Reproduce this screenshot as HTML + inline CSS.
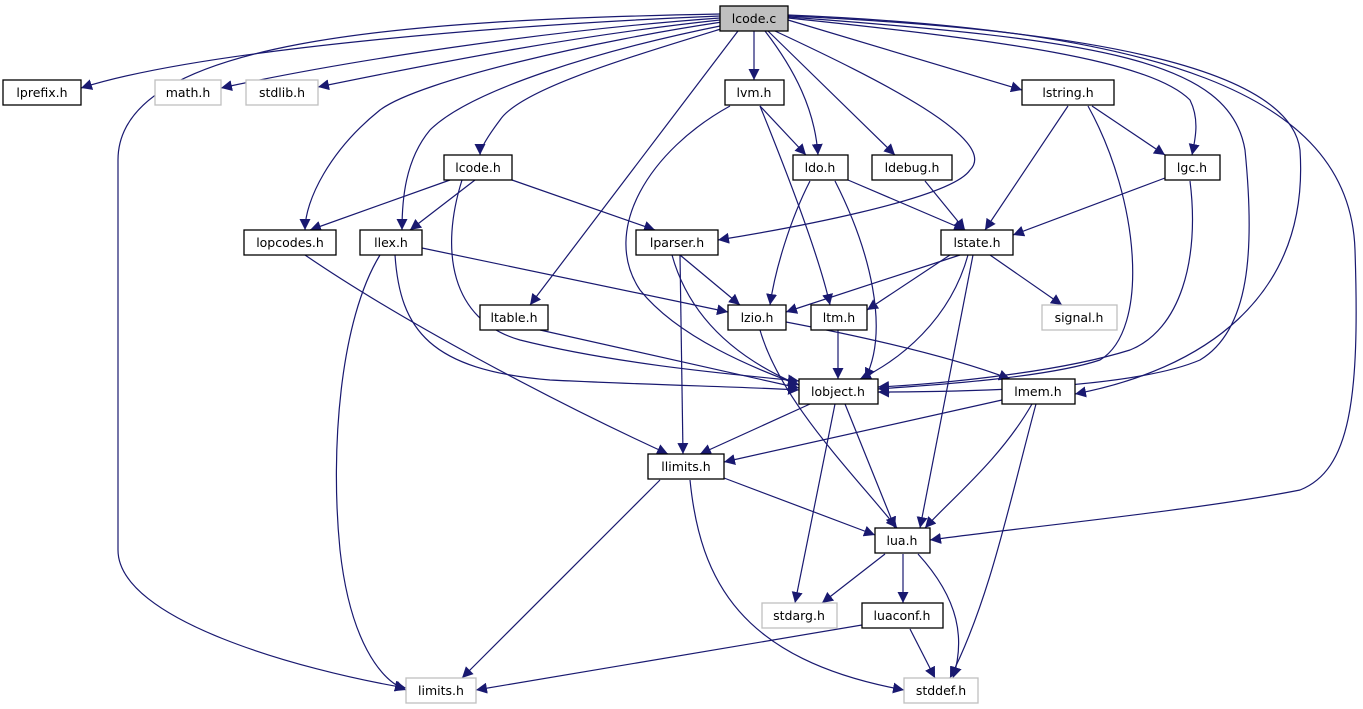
<!DOCTYPE html>
<html><head><meta charset="utf-8"><style>
html,body{margin:0;padding:0;background:#fff;}
svg{display:block;}
text{font-family:"DejaVu Sans","Liberation Sans",sans-serif;font-size:12.5px;fill:#000;}
</style></head><body>
<svg width="1363" height="709" viewBox="0 0 1363 709" xmlns="http://www.w3.org/2000/svg">
<defs><marker id="a" viewBox="0 0 10 10" refX="10" refY="5" markerWidth="11" markerHeight="11" markerUnits="userSpaceOnUse" orient="auto"><path d="M0,0 L10,5 L0,10 z" fill="#191970"/></marker></defs>
<g fill="none" stroke="#191970" stroke-width="1.2" marker-end="url(#a)">
<path d="M720,16 C500,25 200,50 81,88"/>
<path d="M720,18 C550,30 350,60 221,88"/>
<path d="M720,20 C580,35 450,60 318,87"/>
<path d="M720,14 C400,20 118,40 118,160 L118,550 C118,620 300,670 406,688"/>
<path d="M722,22 C600,40 420,80 380,110 C330,150 305,200 305,230"/>
<path d="M725,25 C600,50 470,90 430,130 C405,160 402,200 402,230"/>
<path d="M724,28 C620,60 520,90 500,120 C485,140 480,150 480,155"/>
<path d="M738,31 L530,305"/>
<path d="M754,31 L754,80"/>
<path d="M765,31 C795,70 815,110 818,155"/>
<path d="M768,31 L895,155"/>
<path d="M775,31 C880,80 1000,140 970,170 C950,200 780,230 718,240"/>
<path d="M788,20 L1022,90"/>
<path d="M788,18 C1000,40 1150,60 1190,100 C1200,120 1195,140 1192,155"/>
<path d="M788,17 C1100,40 1230,60 1245,150 C1255,250 1250,330 1200,360 C1130,390 950,392 878,392"/>
<path d="M788,16 C1100,30 1290,70 1300,150 C1310,300 1200,370 1075,394"/>
<path d="M788,15 C1150,30 1350,90 1355,250 C1360,400 1350,470 1300,490 C1200,510 1000,530 930,540"/>
<path d="M760,106 L806,155"/>
<path d="M760,106 C790,180 820,260 830,305"/>
<path d="M730,106 C650,150 600,230 640,290 C680,340 760,370 799,385"/>
<path d="M1092,106 L1165,155"/>
<path d="M1068,106 L985,230"/>
<path d="M1088,106 C1140,200 1150,330 1100,360 C1040,380 900,387 878,389"/>
<path d="M450,180 L310,230"/>
<path d="M475,180 L410,230"/>
<path d="M512,180 L655,230"/>
<path d="M462,180 C440,250 450,320 520,340 C620,365 740,375 799,381"/>
<path d="M810,181 C790,220 775,270 770,305"/>
<path d="M835,181 C870,250 890,330 865,379"/>
<path d="M848,180 L965,230"/>
<path d="M925,181 L965,230"/>
<path d="M1165,178 L1013,235"/>
<path d="M1190,181 C1200,260 1180,330 1130,350 C1050,375 920,385 878,387"/>
<path d="M305,255 C400,320 550,400 668,454"/>
<path d="M422,248 L728,312"/>
<path d="M380,255 C340,320 330,450 340,550 C350,640 380,680 406,690"/>
<path d="M395,255 C400,330 430,370 550,380 C650,385 750,387 799,390"/>
<path d="M680,255 L740,305"/>
<path d="M680,255 L683,454"/>
<path d="M672,255 C690,320 740,360 799,385"/>
<path d="M960,255 L786,312"/>
<path d="M950,255 L867,310"/>
<path d="M990,255 L1062,305"/>
<path d="M968,255 C950,320 900,360 860,379"/>
<path d="M973,255 L920,528"/>
<path d="M540,330 L799,388"/>
<path d="M786,322 C880,340 960,360 1010,379"/>
<path d="M760,330 C780,400 850,470 897,528"/>
<path d="M838,330 L838,379"/>
<path d="M810,404 L700,454"/>
<path d="M835,404 L795,603"/>
<path d="M845,404 L895,528"/>
<path d="M1002,400 L724,462"/>
<path d="M1032,404 C1000,460 950,500 925,528"/>
<path d="M1036,404 C1010,500 990,600 950,678"/>
<path d="M660,480 L462,678"/>
<path d="M724,478 L875,535"/>
<path d="M690,480 C700,580 740,660 904,690"/>
<path d="M885,554 L822,603"/>
<path d="M903,554 L903,603"/>
<path d="M918,554 C960,600 965,640 953,678"/>
<path d="M862,625 L476,690"/>
<path d="M910,629 L935,678"/>
</g>
<g stroke-width="1.3">
<rect x="720" y="6" width="68" height="25" fill="#bfbfbf" stroke="#000"/><text x="754" y="23" text-anchor="middle">lcode.c</text>
<rect x="3" y="80" width="78" height="25" fill="#fff" stroke="#000"/><text x="42" y="97" text-anchor="middle">lprefix.h</text>
<rect x="155" y="80" width="66" height="25" fill="#fff" stroke="#bfbfbf"/><text x="188" y="97" text-anchor="middle">math.h</text>
<rect x="246" y="80" width="72" height="25" fill="#fff" stroke="#bfbfbf"/><text x="282" y="97" text-anchor="middle">stdlib.h</text>
<rect x="725" y="80" width="59" height="25" fill="#fff" stroke="#000"/><text x="754" y="97" text-anchor="middle">lvm.h</text>
<rect x="1022" y="80" width="92" height="25" fill="#fff" stroke="#000"/><text x="1068" y="97" text-anchor="middle">lstring.h</text>
<rect x="444" y="155" width="68" height="25" fill="#fff" stroke="#000"/><text x="478" y="172" text-anchor="middle">lcode.h</text>
<rect x="793" y="155" width="55" height="25" fill="#fff" stroke="#000"/><text x="820" y="172" text-anchor="middle">ldo.h</text>
<rect x="872" y="155" width="80" height="25" fill="#fff" stroke="#000"/><text x="912" y="172" text-anchor="middle">ldebug.h</text>
<rect x="1165" y="155" width="55" height="25" fill="#fff" stroke="#000"/><text x="1192" y="172" text-anchor="middle">lgc.h</text>
<rect x="244" y="230" width="92" height="25" fill="#fff" stroke="#000"/><text x="290" y="247" text-anchor="middle">lopcodes.h</text>
<rect x="360" y="230" width="62" height="25" fill="#fff" stroke="#000"/><text x="391" y="247" text-anchor="middle">llex.h</text>
<rect x="636" y="230" width="82" height="25" fill="#fff" stroke="#000"/><text x="677" y="247" text-anchor="middle">lparser.h</text>
<rect x="941" y="230" width="72" height="25" fill="#fff" stroke="#000"/><text x="977" y="247" text-anchor="middle">lstate.h</text>
<rect x="480" y="305" width="68" height="25" fill="#fff" stroke="#000"/><text x="514" y="322" text-anchor="middle">ltable.h</text>
<rect x="728" y="305" width="58" height="25" fill="#fff" stroke="#000"/><text x="757" y="322" text-anchor="middle">lzio.h</text>
<rect x="811" y="305" width="56" height="25" fill="#fff" stroke="#000"/><text x="839" y="322" text-anchor="middle">ltm.h</text>
<rect x="1042" y="305" width="75" height="25" fill="#fff" stroke="#bfbfbf"/><text x="1079" y="322" text-anchor="middle">signal.h</text>
<rect x="799" y="379" width="79" height="25" fill="#fff" stroke="#000"/><text x="838" y="396" text-anchor="middle">lobject.h</text>
<rect x="1002" y="379" width="73" height="25" fill="#fff" stroke="#000"/><text x="1038" y="396" text-anchor="middle">lmem.h</text>
<rect x="648" y="454" width="76" height="25" fill="#fff" stroke="#000"/><text x="686" y="471" text-anchor="middle">llimits.h</text>
<rect x="875" y="528" width="55" height="25" fill="#fff" stroke="#000"/><text x="902" y="545" text-anchor="middle">lua.h</text>
<rect x="762" y="603" width="75" height="25" fill="#fff" stroke="#bfbfbf"/><text x="799" y="620" text-anchor="middle">stdarg.h</text>
<rect x="862" y="603" width="81" height="25" fill="#fff" stroke="#000"/><text x="902" y="620" text-anchor="middle">luaconf.h</text>
<rect x="406" y="678" width="70" height="25" fill="#fff" stroke="#bfbfbf"/><text x="441" y="695" text-anchor="middle">limits.h</text>
<rect x="904" y="678" width="74" height="25" fill="#fff" stroke="#bfbfbf"/><text x="941" y="695" text-anchor="middle">stddef.h</text>
</g>
</svg>
</body></html>
